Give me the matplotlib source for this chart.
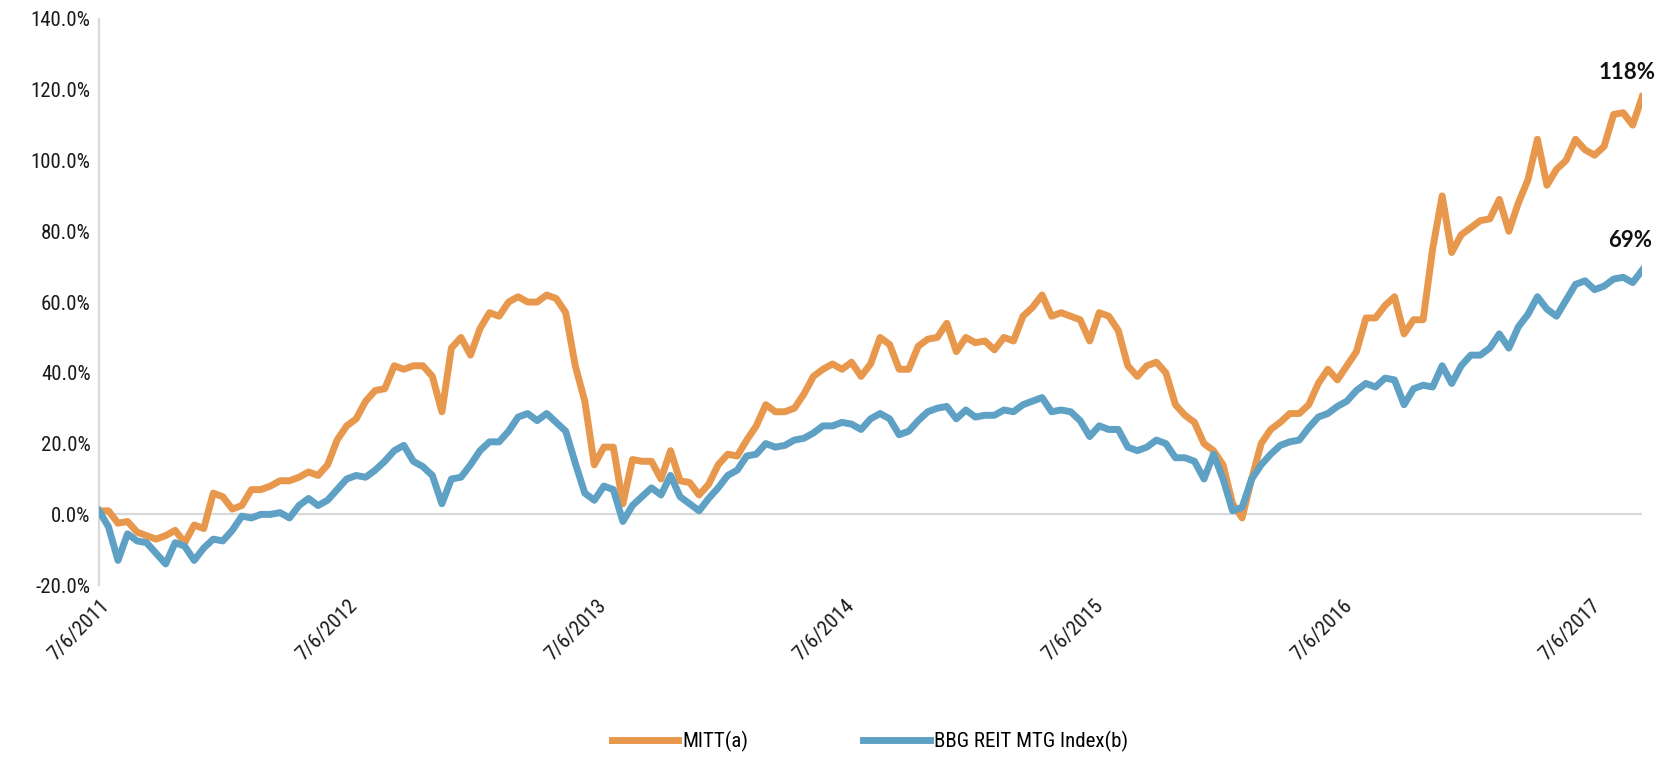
import matplotlib
matplotlib.use("Agg")
import matplotlib.pyplot as plt
from matplotlib import font_manager
from matplotlib.ticker import FuncFormatter
import pandas as pd

# cumulative total return (%) at ~2 week steps from 7/6/2011
mitt = [1, 1, -2.5, -2, -5, -6, -7, -6, -4.5, -8, -3, -4, 6, 5, 1.5, 2.5, 7, 7, 8, 9.5,
        9.5, 10.5, 12, 11, 14, 21, 25, 27, 32, 35, 35.5, 42, 41, 42, 42, 39, 29, 47, 50, 45,
        52.5, 57, 56, 60, 61.5, 60, 60, 62, 61, 57, 42, 32, 14, 19, 19, 3, 15.5, 15, 15, 10,
        18, 9.5, 9, 5.5, 8.5, 14, 17, 16.5, 21, 25, 31, 29, 29, 30, 34, 39, 41, 42.5, 41, 43,
        39, 42.5, 50, 48, 41, 41, 47.5, 49.5, 50, 54, 46, 50, 48.5, 49, 46.5, 50, 49, 56, 58.5, 62,
        56, 57, 56, 55, 49, 57, 56, 52, 42, 39, 42, 43, 40, 31, 28, 26, 20, 18, 14, 3,
        -1, 10, 20, 24, 26, 28.5, 28.5, 31, 37, 41, 38, 42, 46, 55.5, 55.5, 59, 61.5, 51, 55, 55,
        75, 90, 74, 79, 81, 83, 83.5, 89, 80, 88, 94.5, 106, 93, 97.5, 100, 106, 103, 101.5, 104, 113,
        113.5, 110, 118]

bbg = [1, -3.5, -13, -5.5, -7.5, -8, -11, -14, -8, -9, -13, -9.5, -7, -7.5, -4.5, -0.5, -1, 0, 0, 0.5,
       -1, 2.5, 4.5, 2.5, 4, 7, 10, 11, 10.5, 12.5, 15, 18, 19.5, 15, 13.5, 11, 3, 10, 10.5, 14,
       18, 20.5, 20.5, 23.5, 27.5, 28.5, 26.5, 28.5, 26, 23.5, 14.5, 6, 4, 8, 7, -2, 2.5, 5, 7.5, 5.5,
       11, 5, 3, 1, 4.5, 7.5, 11, 12.5, 16.5, 17, 20, 19, 19.5, 21, 21.5, 23, 25, 25, 26, 25.5,
       24, 27, 28.5, 27, 22.5, 23.5, 26.5, 29, 30, 30.5, 27, 29.5, 27.5, 28, 28, 29.5, 29, 31, 32, 33,
       29, 29.5, 29, 26.5, 22, 25, 24, 24, 19, 18, 19, 21, 20, 16, 16, 15, 10, 17, 10, 1,
       2, 10, 14, 17, 19.5, 20.5, 21, 24.5, 27.5, 28.5, 30.5, 32, 35, 37, 36, 38.5, 38, 31, 35.5, 36.5,
       36, 42, 37, 42, 45, 45, 47, 51, 47, 53, 56.5, 61.5, 58, 56, 60.5, 65, 66, 63.5, 64.5, 66.5,
       67, 65.5, 69]

dates = pd.date_range("2011-07-06", periods=len(mitt), freq="14D")
tick_dates = pd.to_datetime(["2011-07-06", "2012-07-06", "2013-07-06", "2014-07-06",
                             "2015-07-06", "2016-07-06", "2017-07-06"])
tick_labels = ["7/6/2011", "7/6/2012", "7/6/2013", "7/6/2014", "7/6/2015", "7/6/2016", "7/6/2017"]
end_labels = ["118%", "69%"]

# pick a condensed font if there is one
names = set(f.name for f in font_manager.fontManager.ttflist)
narrow = "DejaVu Sans"
for cand in ["Liberation Sans Narrow", "Roboto Condensed", "Open Sans Condensed"]:
    if cand in names:
        narrow = cand
        break
plt.rcParams["font.family"] = [narrow, "DejaVu Sans"]

orange = "#E8984D"
blue = "#5FA1C5"

fig = plt.figure(figsize=(16.63, 7.57), dpi=100)
ax = fig.add_axes([0.0595, 0.227, 0.928, 0.748])

ax.axhline(0, color="#D9D9D9", lw=1.6, zorder=1)
ax.plot(dates, mitt, color=orange, lw=5, solid_joinstyle="round", label="MITT(a)", zorder=3)
ax.plot(dates, bbg, color=blue, lw=5, solid_joinstyle="round", label="BBG REIT MTG Index(b)", zorder=4)

ax.set_ylim(-20, 140)
ax.set_yticks(range(-20, 141, 20))
ax.yaxis.set_major_formatter(FuncFormatter(lambda v, p: f"{v:.1f}%"))
ax.set_xlim(dates[0], dates[-1])
ax.set_xticks(tick_dates)
ax.set_xticklabels(tick_labels, rotation=45, ha="right", rotation_mode="anchor")

for s in ["top", "right", "bottom"]:
    ax.spines[s].set_visible(False)
ax.spines["left"].set_color("#D9D9D9")
ax.spines["left"].set_linewidth(1.6)
ax.tick_params(axis="both", length=0, labelsize=15, colors="#1a1a1a")
ax.tick_params(axis="x", pad=8)
ax.tick_params(axis="y", pad=6)

lbl_font = "Lato" if "Lato" in names else "DejaVu Sans"
ax.annotate(end_labels[0], (dates[-1], mitt[-1]), xytext=(-11, 10), textcoords="offset points",
            ha="center", va="bottom", fontsize=16, fontweight="bold", family=lbl_font, color="#111111")
ax.annotate(end_labels[1], (dates[-1], bbg[-1]), xytext=(-9, 14), textcoords="offset points",
            ha="center", va="bottom", fontsize=16, fontweight="bold", family=lbl_font, color="#111111")

fig.legend(loc="lower center", bbox_to_anchor=(0.523, -0.018), ncol=2, frameon=False,
           fontsize=15, handlelength=3.2, handletextpad=0.2, columnspacing=5.5)

fig.savefig("out.png", dpi=100)
